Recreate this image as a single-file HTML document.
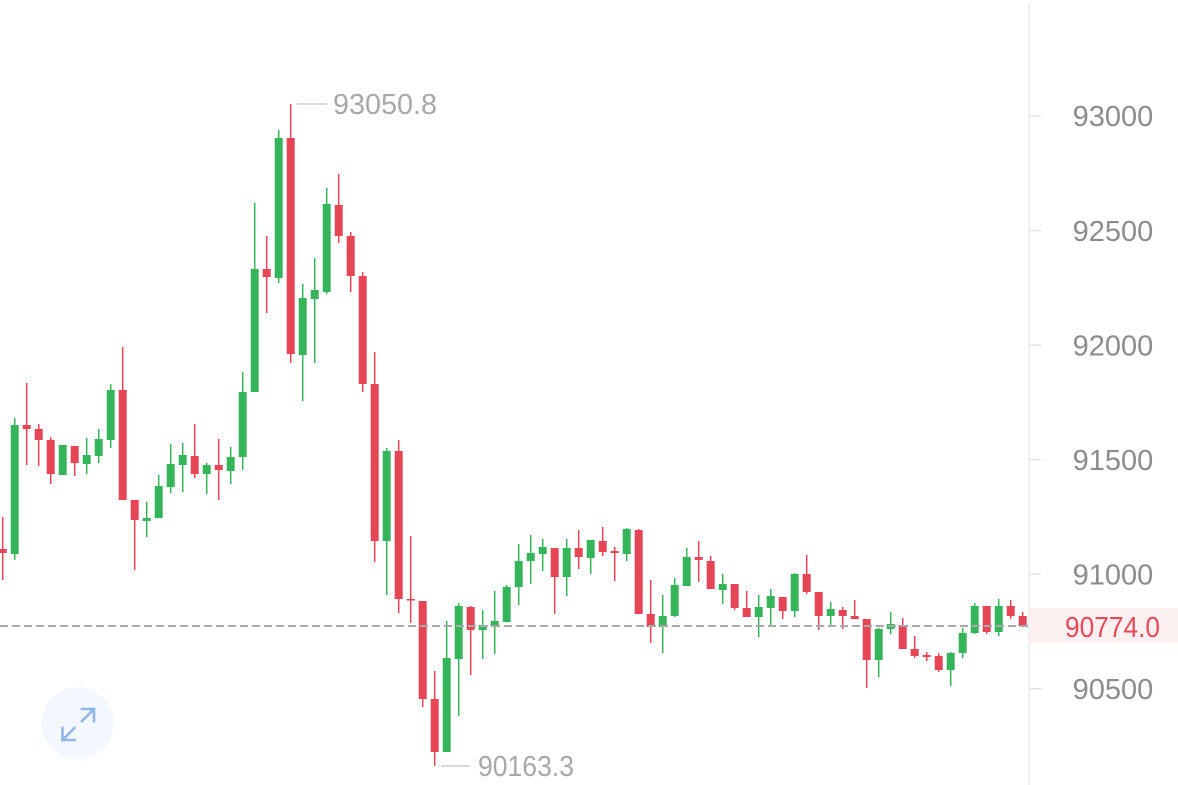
<!DOCTYPE html>
<html><head><meta charset="utf-8"><style>
html,body{margin:0;padding:0;background:#fff;}
svg{display:block;}
.g rect{fill:#35b45a;}
.r rect{fill:#e64556;}
text{font-family:"Liberation Sans",sans-serif;}
</style></head><body>
<svg width="1178" height="785" viewBox="0 0 1178 785" xmlns="http://www.w3.org/2000/svg">
<rect width="1178" height="785" fill="#fff"/>
<!-- price label bg -->
<rect x="1030" y="608" width="148" height="35" fill="#fdf0f1"/>
<!-- axis line -->
<line x1="1029" y1="4" x2="1029" y2="785" stroke="#ececec" stroke-width="1.5"/>
<g stroke="#e3e3e3" stroke-width="1.5">
<line x1="1029" y1="116" x2="1041" y2="116"/>
<line x1="1029" y1="230.5" x2="1041" y2="230.5"/>
<line x1="1029" y1="345.1" x2="1041" y2="345.1"/>
<line x1="1029" y1="459.6" x2="1041" y2="459.6"/>
<line x1="1029" y1="574.2" x2="1041" y2="574.2"/>
<line x1="1029" y1="688.7" x2="1041" y2="688.7"/>
</g>
<g fill="#8c8c8c" font-size="29" text-anchor="middle">
<text x="1113" y="126">93000</text>
<text x="1113" y="241">92500</text>
<text x="1113" y="355.5">92000</text>
<text x="1113" y="470">91500</text>
<text x="1113" y="584.5">91000</text>
<text x="1113" y="699">90500</text>
</g>
<text x="1112.5" y="637" fill="#e84a5a" font-size="29" text-anchor="middle" textLength="95" lengthAdjust="spacingAndGlyphs">90774.0</text>

<!-- candles -->
<g transform="translate(2.7)" class="r"><rect x="-0.75" y="517" width="1.5" height="63"/><rect x="-4" y="549" width="8" height="4"/></g>
<g transform="translate(14.7)" class="g"><rect x="-0.75" y="418" width="1.5" height="142"/><rect x="-4" y="425" width="8" height="129"/></g>
<g transform="translate(26.7)" class="r"><rect x="-0.75" y="383" width="1.5" height="82"/><rect x="-4" y="425" width="8" height="4"/></g>
<g transform="translate(38.7)" class="r"><rect x="-0.75" y="424" width="1.5" height="42"/><rect x="-4" y="429" width="8" height="11"/></g>
<g transform="translate(50.7)" class="r"><rect x="-0.75" y="437" width="1.5" height="47"/><rect x="-4" y="440" width="8" height="34"/></g>
<g transform="translate(62.7)" class="g"><rect x="-0.75" y="445" width="1.5" height="30"/><rect x="-4" y="445" width="8" height="30"/></g>
<g transform="translate(74.7)" class="r"><rect x="-0.75" y="446" width="1.5" height="30"/><rect x="-4" y="446" width="8" height="17"/></g>
<g transform="translate(86.7)" class="g"><rect x="-0.75" y="438" width="1.5" height="36"/><rect x="-4" y="455" width="8" height="9"/></g>
<g transform="translate(98.7)" class="g"><rect x="-0.75" y="429" width="1.5" height="34"/><rect x="-4" y="439" width="8" height="17"/></g>
<g transform="translate(110.7)" class="g"><rect x="-0.75" y="384" width="1.5" height="64"/><rect x="-4" y="390" width="8" height="50"/></g>
<g transform="translate(122.7)" class="r"><rect x="-0.75" y="347" width="1.5" height="153"/><rect x="-4" y="390" width="8" height="110"/></g>
<g transform="translate(134.7)" class="r"><rect x="-0.75" y="500" width="1.5" height="70"/><rect x="-4" y="500" width="8" height="20"/></g>
<g transform="translate(146.7)" class="g"><rect x="-0.75" y="502" width="1.5" height="35"/><rect x="-4" y="518" width="8" height="3"/></g>
<g transform="translate(158.7)" class="g"><rect x="-0.75" y="475" width="1.5" height="43"/><rect x="-4" y="486" width="8" height="32"/></g>
<g transform="translate(170.7)" class="g"><rect x="-0.75" y="444" width="1.5" height="49"/><rect x="-4" y="464" width="8" height="23"/></g>
<g transform="translate(182.7)" class="g"><rect x="-0.75" y="443" width="1.5" height="49"/><rect x="-4" y="455" width="8" height="10"/></g>
<g transform="translate(194.7)" class="r"><rect x="-0.75" y="424" width="1.5" height="54"/><rect x="-4" y="456" width="8" height="18"/></g>
<g transform="translate(206.7)" class="g"><rect x="-0.75" y="463" width="1.5" height="31"/><rect x="-4" y="465" width="8" height="9"/></g>
<g transform="translate(218.7)" class="r"><rect x="-0.75" y="439" width="1.5" height="61"/><rect x="-4" y="465" width="8" height="5"/></g>
<g transform="translate(230.7)" class="g"><rect x="-0.75" y="447" width="1.5" height="37"/><rect x="-4" y="457" width="8" height="14"/></g>
<g transform="translate(242.7)" class="g"><rect x="-0.75" y="372" width="1.5" height="98"/><rect x="-4" y="392" width="8" height="65"/></g>
<g transform="translate(254.7)" class="g"><rect x="-0.75" y="203" width="1.5" height="189"/><rect x="-4" y="269" width="8" height="123"/></g>
<g transform="translate(266.7)" class="r"><rect x="-0.75" y="236" width="1.5" height="77"/><rect x="-4" y="269" width="8" height="8"/></g>
<g transform="translate(278.7)" class="g"><rect x="-0.75" y="130" width="1.5" height="153"/><rect x="-4" y="138" width="8" height="140"/></g>
<g transform="translate(290.7)" class="r"><rect x="-0.75" y="104" width="1.5" height="259"/><rect x="-4" y="138" width="8" height="216"/></g>
<g transform="translate(302.7)" class="g"><rect x="-0.75" y="284" width="1.5" height="117"/><rect x="-4" y="298" width="8" height="57"/></g>
<g transform="translate(314.7)" class="g"><rect x="-0.75" y="258" width="1.5" height="105"/><rect x="-4" y="290" width="8" height="9"/></g>
<g transform="translate(326.7)" class="g"><rect x="-0.75" y="188" width="1.5" height="106"/><rect x="-4" y="204" width="8" height="88"/></g>
<g transform="translate(338.7)" class="r"><rect x="-0.75" y="174" width="1.5" height="69"/><rect x="-4" y="205" width="8" height="31"/></g>
<g transform="translate(350.7)" class="r"><rect x="-0.75" y="232" width="1.5" height="60"/><rect x="-4" y="236" width="8" height="40"/></g>
<g transform="translate(362.7)" class="r"><rect x="-0.75" y="272" width="1.5" height="120"/><rect x="-4" y="276" width="8" height="108"/></g>
<g transform="translate(374.7)" class="r"><rect x="-0.75" y="352" width="1.5" height="210"/><rect x="-4" y="384" width="8" height="157"/></g>
<g transform="translate(386.7)" class="g"><rect x="-0.75" y="448" width="1.5" height="147"/><rect x="-4" y="451" width="8" height="90"/></g>
<g transform="translate(398.7)" class="r"><rect x="-0.75" y="440" width="1.5" height="173"/><rect x="-4" y="451" width="8" height="148"/></g>
<g transform="translate(410.7)" class="r"><rect x="-0.75" y="536" width="1.5" height="87"/><rect x="-4" y="599" width="8" height="1.5"/></g>
<g transform="translate(422.7)" class="r"><rect x="-0.75" y="601" width="1.5" height="106"/><rect x="-4" y="601" width="8" height="98"/></g>
<g transform="translate(434.7)" class="r"><rect x="-0.75" y="671" width="1.5" height="95"/><rect x="-4" y="699" width="8" height="53"/></g>
<g transform="translate(446.7)" class="g"><rect x="-0.75" y="621" width="1.5" height="131"/><rect x="-4" y="658" width="8" height="94"/></g>
<g transform="translate(458.7)" class="g"><rect x="-0.75" y="603" width="1.5" height="113"/><rect x="-4" y="606" width="8" height="53"/></g>
<g transform="translate(470.7)" class="r"><rect x="-0.75" y="606" width="1.5" height="69"/><rect x="-4" y="607" width="8" height="23"/></g>
<g transform="translate(482.7)" class="g"><rect x="-0.75" y="610" width="1.5" height="49"/><rect x="-4" y="625" width="8" height="5"/></g>
<g transform="translate(494.7)" class="g"><rect x="-0.75" y="591" width="1.5" height="63"/><rect x="-4" y="621" width="8" height="5"/></g>
<g transform="translate(506.7)" class="g"><rect x="-0.75" y="585" width="1.5" height="37"/><rect x="-4" y="587" width="8" height="35"/></g>
<g transform="translate(518.7)" class="g"><rect x="-0.75" y="544" width="1.5" height="61"/><rect x="-4" y="561" width="8" height="26"/></g>
<g transform="translate(530.7)" class="g"><rect x="-0.75" y="535" width="1.5" height="49"/><rect x="-4" y="553" width="8" height="8"/></g>
<g transform="translate(542.7)" class="g"><rect x="-0.75" y="539" width="1.5" height="32"/><rect x="-4" y="547" width="8" height="7"/></g>
<g transform="translate(554.7)" class="r"><rect x="-0.75" y="548" width="1.5" height="66"/><rect x="-4" y="548" width="8" height="29"/></g>
<g transform="translate(566.7)" class="g"><rect x="-0.75" y="539" width="1.5" height="57"/><rect x="-4" y="548" width="8" height="29"/></g>
<g transform="translate(578.7)" class="r"><rect x="-0.75" y="530" width="1.5" height="39"/><rect x="-4" y="548" width="8" height="9"/></g>
<g transform="translate(590.7)" class="g"><rect x="-0.75" y="540" width="1.5" height="34"/><rect x="-4" y="540" width="8" height="18"/></g>
<g transform="translate(602.7)" class="r"><rect x="-0.75" y="527" width="1.5" height="29"/><rect x="-4" y="541" width="8" height="11"/></g>
<g transform="translate(614.7)" class="r"><rect x="-0.75" y="547" width="1.5" height="34"/><rect x="-4" y="551" width="8" height="2"/></g>
<g transform="translate(626.7)" class="g"><rect x="-0.75" y="528" width="1.5" height="33"/><rect x="-4" y="529" width="8" height="25"/></g>
<g transform="translate(638.7)" class="r"><rect x="-0.75" y="529" width="1.5" height="85"/><rect x="-4" y="530" width="8" height="84"/></g>
<g transform="translate(650.7)" class="r"><rect x="-0.75" y="580" width="1.5" height="63"/><rect x="-4" y="614" width="8" height="13"/></g>
<g transform="translate(662.7)" class="g"><rect x="-0.75" y="595" width="1.5" height="58"/><rect x="-4" y="616" width="8" height="11"/></g>
<g transform="translate(674.7)" class="g"><rect x="-0.75" y="578" width="1.5" height="39"/><rect x="-4" y="585" width="8" height="31"/></g>
<g transform="translate(686.7)" class="g"><rect x="-0.75" y="548" width="1.5" height="38"/><rect x="-4" y="557" width="8" height="29"/></g>
<g transform="translate(698.7)" class="r"><rect x="-0.75" y="541" width="1.5" height="41"/><rect x="-4" y="557" width="8" height="3"/></g>
<g transform="translate(710.7)" class="r"><rect x="-0.75" y="556" width="1.5" height="33"/><rect x="-4" y="561" width="8" height="28"/></g>
<g transform="translate(722.7)" class="g"><rect x="-0.75" y="574" width="1.5" height="30"/><rect x="-4" y="584" width="8" height="6"/></g>
<g transform="translate(734.7)" class="r"><rect x="-0.75" y="584" width="1.5" height="26"/><rect x="-4" y="584" width="8" height="24"/></g>
<g transform="translate(746.7)" class="r"><rect x="-0.75" y="591" width="1.5" height="26"/><rect x="-4" y="608" width="8" height="9"/></g>
<g transform="translate(758.7)" class="g"><rect x="-0.75" y="595" width="1.5" height="42"/><rect x="-4" y="607" width="8" height="10"/></g>
<g transform="translate(770.7)" class="g"><rect x="-0.75" y="589" width="1.5" height="36"/><rect x="-4" y="596" width="8" height="12"/></g>
<g transform="translate(782.7)" class="r"><rect x="-0.75" y="597" width="1.5" height="22"/><rect x="-4" y="597" width="8" height="14"/></g>
<g transform="translate(794.7)" class="g"><rect x="-0.75" y="573" width="1.5" height="44"/><rect x="-4" y="574" width="8" height="37"/></g>
<g transform="translate(806.7)" class="r"><rect x="-0.75" y="555" width="1.5" height="39"/><rect x="-4" y="574" width="8" height="18"/></g>
<g transform="translate(818.7)" class="r"><rect x="-0.75" y="592" width="1.5" height="38"/><rect x="-4" y="592" width="8" height="24"/></g>
<g transform="translate(830.7)" class="g"><rect x="-0.75" y="602" width="1.5" height="25"/><rect x="-4" y="609" width="8" height="7"/></g>
<g transform="translate(842.7)" class="r"><rect x="-0.75" y="607" width="1.5" height="22"/><rect x="-4" y="610" width="8" height="6"/></g>
<g transform="translate(854.7)" class="r"><rect x="-0.75" y="600" width="1.5" height="19"/><rect x="-4" y="616" width="8" height="3"/></g>
<g transform="translate(866.7)" class="r"><rect x="-0.75" y="619" width="1.5" height="69"/><rect x="-4" y="619" width="8" height="41"/></g>
<g transform="translate(878.7)" class="g"><rect x="-0.75" y="628" width="1.5" height="49"/><rect x="-4" y="629" width="8" height="31"/></g>
<g transform="translate(890.7)" class="g"><rect x="-0.75" y="612" width="1.5" height="22"/><rect x="-4" y="624" width="8" height="5"/></g>
<g transform="translate(902.7)" class="r"><rect x="-0.75" y="618" width="1.5" height="31"/><rect x="-4" y="625" width="8" height="24"/></g>
<g transform="translate(914.7)" class="r"><rect x="-0.75" y="636" width="1.5" height="22"/><rect x="-4" y="649" width="8" height="7"/></g>
<g transform="translate(926.7)" class="r"><rect x="-0.75" y="652" width="1.5" height="9"/><rect x="-4" y="655" width="8" height="2"/></g>
<g transform="translate(938.7)" class="r"><rect x="-0.75" y="653" width="1.5" height="19"/><rect x="-4" y="656" width="8" height="14"/></g>
<g transform="translate(950.7)" class="g"><rect x="-0.75" y="652" width="1.5" height="34"/><rect x="-4" y="653" width="8" height="17"/></g>
<g transform="translate(962.7)" class="g"><rect x="-0.75" y="628" width="1.5" height="30"/><rect x="-4" y="633" width="8" height="20"/></g>
<g transform="translate(974.7)" class="g"><rect x="-0.75" y="603" width="1.5" height="31"/><rect x="-4" y="606" width="8" height="27"/></g>
<g transform="translate(986.7)" class="r"><rect x="-0.75" y="606" width="1.5" height="28"/><rect x="-4" y="606" width="8" height="26"/></g>
<g transform="translate(998.7)" class="g"><rect x="-0.75" y="599" width="1.5" height="37"/><rect x="-4" y="606" width="8" height="26"/></g>
<g transform="translate(1010.7)" class="r"><rect x="-0.75" y="600" width="1.5" height="19"/><rect x="-4" y="606" width="8" height="10"/></g>
<g transform="translate(1022.7)" class="r"><rect x="-0.75" y="612" width="1.5" height="14"/><rect x="-4" y="616" width="8" height="10"/></g>

<!-- last price dashed line -->
<line x1="0" y1="626" x2="1028" y2="626" stroke="#a9a9a9" stroke-width="2" stroke-dasharray="8,4"/>

<!-- high / low markers -->
<line x1="297" y1="104" x2="327" y2="104" stroke="#cfcfcf" stroke-width="1.5"/>
<text x="333" y="114" fill="#a8a8a8" font-size="29" textLength="104" lengthAdjust="spacingAndGlyphs">93050.8</text>
<line x1="441" y1="766" x2="470" y2="766" stroke="#cfcfcf" stroke-width="1.5"/>
<text x="478" y="776" fill="#a8a8a8" font-size="29" textLength="96" lengthAdjust="spacingAndGlyphs">90163.3</text>

<!-- expand button -->
<circle cx="77.7" cy="723.3" r="36" fill="#f3f7fe"/>
<g stroke="#94b6e6" stroke-width="2.6" fill="none" stroke-linecap="square">
<path d="M62.5 728 L62.5 740 L74.5 740"/>
<path d="M62.5 740 L74.5 728"/>
<path d="M82 709 L94 709 L94 721"/>
<path d="M94 709 L82 721"/>
</g>
</svg>
</body></html>
